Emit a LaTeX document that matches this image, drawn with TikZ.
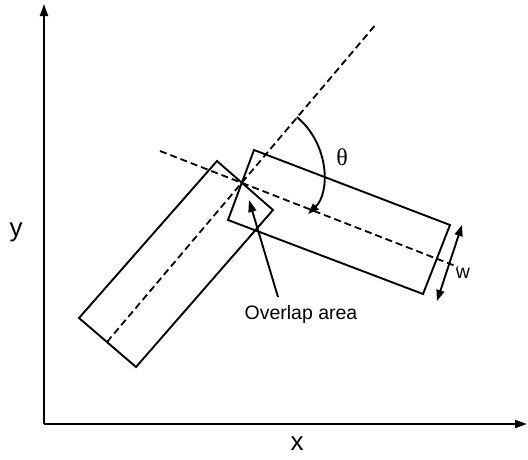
\documentclass[tikz,border=0pt]{standalone}
\usepackage{fontspec}
\setmainfont{Liberation Sans}
\newfontfamily\greekfont{Liberation Serif}
\usetikzlibrary{arrows.meta}
\tikzset{
  solidline/.style={line width=1.9pt, line join=miter},
  dashline/.style={line width=1.8pt, dash pattern=on 7pt off 4pt},
  axisarrow/.style={line width=1.9pt, -{Triangle[length=12pt,width=8pt]}},
  lbl/.style={inner sep=0pt, font=\fontsize{19.5}{22}\selectfont},
  biglbl/.style={inner sep=0pt, font=\fontsize{26}{28}\selectfont},
}
\begin{document}
\begin{tikzpicture}[x=1pt,y=-1pt]
\useasboundingbox (0,0) rectangle (528,459);
% axes
\coordinate (O) at (44,424);
\coordinate (Ytip) at (44,4);
\coordinate (Xtip) at (527,424);
\draw[axisarrow] (O) -- (Ytip);
\draw[axisarrow] (O) -- (Xtip);
\node[biglbl] (xl) at (297,444) {x};
\node[biglbl] (yl) at (16,232) {y};
% right rectangle
\coordinate (R1) at (254,150);
\coordinate (R2) at (450,225);
\coordinate (R3) at (423,294);
\coordinate (R4) at (228,220);
\draw[solidline] (R1) -- (R2) -- (R3) -- (R4) -- cycle;
% left rectangle
\coordinate (L1) at (217,161);
\coordinate (L2) at (273,210);
\coordinate (L3) at (136,367);
\coordinate (L4) at (79,318);
\draw[solidline] (L1) -- (L2) -- (L3) -- (L4) -- cycle;
% dashed axes
\coordinate (D1a) at (107,342);
\coordinate (D1b) at (377,23);
\coordinate (D2a) at (160,151);
\coordinate (D2b) at (458,267);
\draw[dashline] (D1a) -- (D1b);
\draw[dashline] (D2a) -- (D2b);
% theta arc
\coordinate (T1) at (297,117);
\coordinate (T2) at (308,214);
\draw[line width=1.9pt, -{Triangle[length=11pt,width=8pt]}] (T1) .. controls (330,145) and (330,193) .. (T2);
\node[inner sep=0pt, font=\greekfont\fontsize{24}{26}\selectfont] (th) at (342,157) {θ};
% w arrow
\coordinate (W1) at (462,225);
\coordinate (W2) at (437,301);
\draw[line width=1.9pt, {Triangle[length=11pt,width=8pt]}-{Triangle[length=11pt,width=8pt]}] (W1) -- (W2);
\node[lbl] (wl) at (463,273) {w};
% overlap area
\node[lbl] (ov) at (301,314) {Overlap area};
\coordinate (OvS) at (278,297);
\coordinate (OvT) at (249,200);
\draw[line width=1.9pt, -{Triangle[length=12pt,width=8pt]}] (OvS) -- (OvT);
\end{tikzpicture}
\end{document}
